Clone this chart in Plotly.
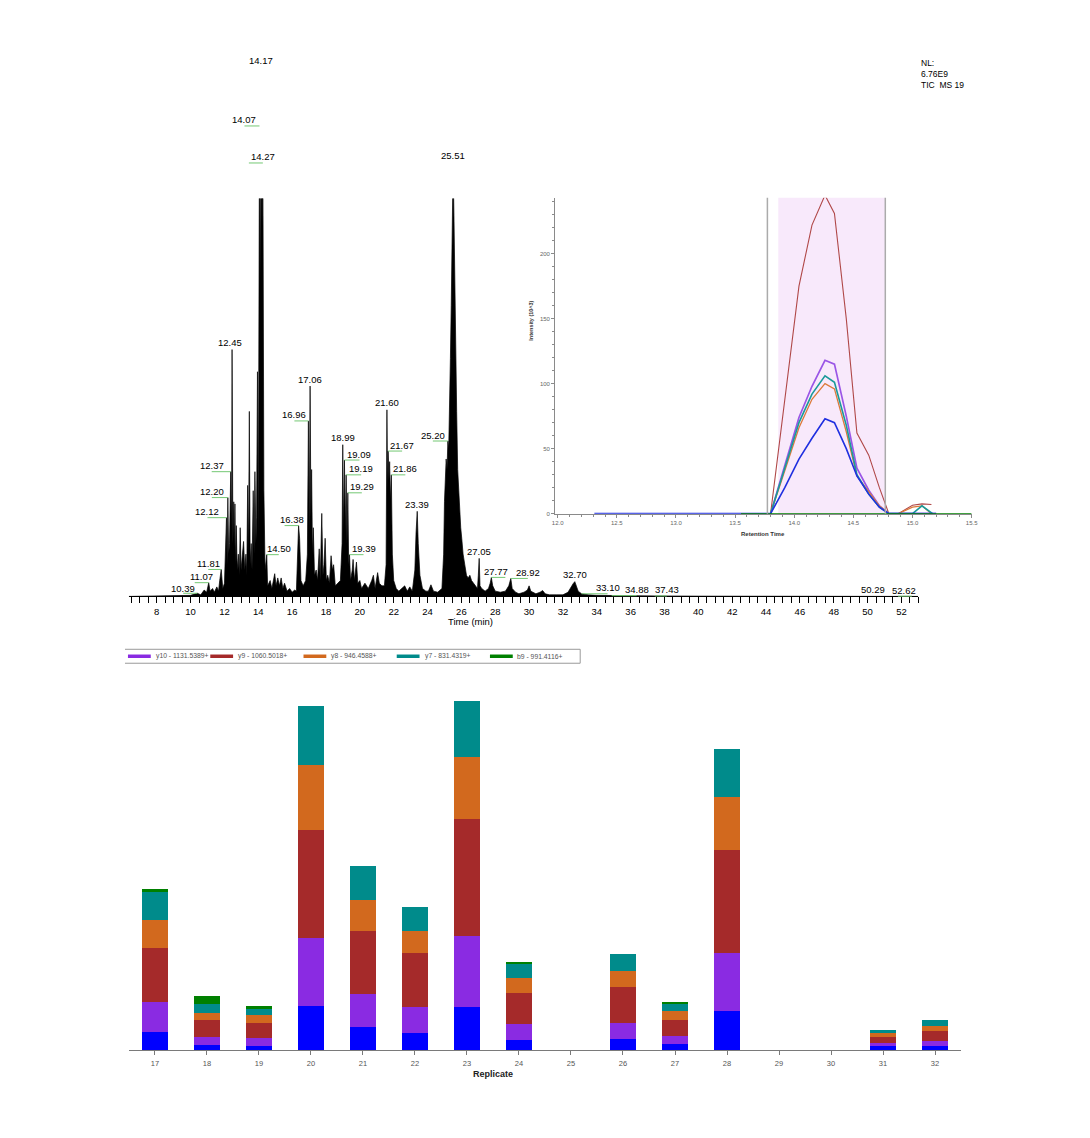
import plotly.graph_objects as go

W, H = 1090, 1138
FONT = "Liberation Sans, Arial, sans-serif"

# ---------------- TIC chromatogram data (relative abundance, %) ----------------
tic_time = [6.34, 10.0, 10.39, 10.6, 10.8, 10.95, 11.07, 11.15, 11.3, 11.4, 11.55, 11.65, 11.72, 11.81,
            11.9, 12.0, 12.12, 12.16, 12.20, 12.25, 12.30, 12.37, 12.42, 12.45, 12.50, 12.55, 12.58,
            12.62, 12.66, 12.70, 12.75, 12.82, 12.88, 12.93, 12.98, 13.05, 13.13, 13.2, 13.27, 13.32,
            13.37, 13.42, 13.47, 13.52, 13.58, 13.63, 13.70, 13.75, 13.80, 13.86, 13.90, 13.95, 14.00,
            14.07, 14.12, 14.17, 14.22, 14.27, 14.33, 14.40, 14.50, 14.55, 14.7, 14.8, 14.97, 15.05,
            15.15, 15.25, 15.35, 15.45, 15.55, 15.7, 15.85, 16.0, 16.15, 16.25, 16.38, 16.44, 16.52,
            16.65, 16.80, 16.90, 16.96, 17.01, 17.06, 17.11, 17.15, 17.20, 17.25, 17.32, 17.42, 17.5,
            17.6, 17.66, 17.75, 17.82, 17.88, 17.95, 18.02, 18.1, 18.2, 18.3, 18.38, 18.45, 18.55,
            18.7, 18.85, 18.95, 18.99, 19.04, 19.09, 19.14, 19.19, 19.24, 19.29, 19.34, 19.39, 19.45,
            19.55, 19.6, 19.68, 19.8, 19.88, 20.0, 20.1, 20.3, 20.5, 20.7, 20.8, 20.9, 21.05, 21.15,
            21.3, 21.45, 21.55, 21.60, 21.64, 21.67, 21.72, 21.76, 21.81, 21.86, 21.92, 22.0, 22.15,
            22.3, 22.5, 22.65, 22.8, 22.95, 23.1, 23.25, 23.32, 23.39, 23.45, 23.55, 23.7, 23.9, 24.05,
            24.2, 24.35, 24.6, 24.85, 24.95, 25.0, 25.05, 25.10, 25.15, 25.20, 25.25, 25.30, 25.35,
            25.40, 25.45, 25.51, 25.56, 25.62, 25.68, 25.72, 25.78, 25.84, 25.90, 25.96, 26.02, 26.1,
            26.2, 26.3, 26.4, 26.5, 26.6, 26.7, 26.85, 26.95, 27.0, 27.05, 27.1, 27.2, 27.4, 27.6,
            27.7, 27.77, 27.85, 28.0, 28.3, 28.6, 28.8, 28.92, 29.0, 29.2, 29.4, 29.7, 29.9, 30.0,
            30.1, 30.4, 30.65, 30.8, 30.95, 31.2, 31.6, 32.0, 32.3, 32.5, 32.60, 32.70, 32.8, 32.9,
            33.10, 33.5, 34.0, 34.88, 35.5, 37.43, 40.0, 50.29, 52.62, 53.0]
tic_int = [0, 0.2, 0.6, 0.3, 1.2, 0.8, 2.6, 1.0, 1.5, 0.8, 1.8, 1.0, 3.0, 5.1,
           1.5, 2.5, 14.9, 6, 18.7, 8, 10, 23.6, 12, 46.7, 10, 17.9, 9,
           17.5, 6, 13.4, 5, 8, 4, 13, 5, 8, 10.4, 5, 8, 4,
           21, 8, 35, 6, 10, 5, 20, 8, 23.6, 10, 15, 42.5, 12,
           89, 60, 100, 70, 82, 20, 5, 7.9, 2, 3, 1.5, 4.3, 2,
           3.5, 2, 3.5, 1.5, 2.5, 1, 1.5, 0.8, 1.2, 1, 13.4, 11, 3,
           2, 3, 8, 33.2, 12, 39.8, 15, 24, 8, 13, 4, 5, 3,
           9, 3, 15.7, 4, 6, 11, 3, 4, 2.5, 7.7, 5, 6, 2,
           2.5, 3, 10, 28.7, 12, 25.8, 12, 23, 10, 19.6, 6, 7.9, 3,
           5, 7, 3, 6.5, 2.5, 3, 1.5, 2.5, 1.5, 3, 4, 1.5, 4.5, 2.5,
           2, 2, 6, 35.3, 20, 27.5, 22, 25.5, 18, 23, 8, 3, 1.5,
           1, 1.5, 2, 1, 1.8, 1, 5, 12, 16.1, 10, 4, 1.5, 1, 1,
           2.2, 1, 0.8, 1.5, 8, 18, 25, 26, 24, 29.4, 28, 34, 45,
           55, 70, 82, 72, 55, 40, 35, 24, 20, 16, 13, 11, 8,
           6, 4, 3.5, 4, 3, 2.5, 2, 1.5, 4, 7.2, 2, 1.5, 1, 1.5,
           2.5, 3.6, 2, 1, 0.8, 1, 2, 3.4, 1.5, 0.8, 0.5, 0.8, 1.2, 2.0,
           1.0, 0.5, 0.8, 1.1, 0.5, 0.3, 0.3, 0.3, 0.8, 2.0, 2.4, 2.8, 1.8, 1.0,
           0.5, 0.3, 0.2, 0.15, 0.1, 0.1, 0.05, 0.05, 0.05, 0]

tic_label_rt = [14.17, 14.07, 14.27, 25.51, 12.45, 17.06, 16.96, 21.60, 18.99, 19.09, 19.19,
                21.67, 25.20, 12.37, 21.86, 12.20, 19.29, 23.39, 12.12, 16.38, 14.50, 19.39,
                27.05, 11.81, 11.07, 27.77, 28.92, 32.70, 10.39, 33.10, 34.88, 37.43, 50.29, 52.62]
NL_TEXT = "NL:<br>6.76E9<br>TIC  MS 19"

# ---------------- Inset XIC data (Intensity, 10^3) ----------------
xic_names = ["y10 - 1131.5389+", "y9 - 1060.5018+", "y8 - 946.4588+", "y7 - 831.4319+",
             "unlabelled (blue)", "b9 - 991.4116+"]
xic_t_y10 = [13.80, 13.92, 14.04, 14.15, 14.26, 14.34, 14.44, 14.53, 14.63, 14.72, 14.80, 15.20]
xic_v_y10 = [0, 38, 74, 98, 118, 115, 75, 35, 18, 6, 0, 0]
xic_t_y9 = [13.80, 13.92, 14.04, 14.15, 14.26, 14.34, 14.44, 14.53, 14.63, 14.72, 14.80, 14.88,
            15.00, 15.08, 15.16]
xic_v_y9 = [0, 88, 175, 222, 245, 231, 150, 62, 45, 20, 0, 0, 6.5, 7.5, 7]
xic_t_y8 = [13.80, 13.92, 14.04, 14.15, 14.26, 14.34, 14.44, 14.53, 14.63, 14.72, 14.80, 14.88,
            15.00, 15.08, 15.16]
xic_v_y8 = [0, 33, 66, 88, 100, 96, 63, 29, 17, 6, 0, 0, 5, 6, 0]
xic_t_y7 = [13.80, 13.92, 14.04, 14.15, 14.26, 14.34, 14.44, 14.53, 14.63, 14.72, 14.80, 15.00,
            15.08, 15.17]
xic_v_y7 = [0, 35, 70, 92, 106, 101, 68, 30, 15, 5, 0, 0, 6, 0]
xic_t_blue = [12.31, 13.55, 13.80, 13.92, 14.04, 14.15, 14.26, 14.34, 14.44, 14.53, 14.63, 14.72,
              14.80, 15.20]
xic_v_blue = [0, 0, 0, 20, 42, 58, 73, 70, 50, 29, 15, 5, 0, 0]
xic_t_b9 = [13.55, 15.50]
xic_v_b9 = [0, 0]
integration_start, integration_end = 13.865, 14.77
marker_line_rt = 13.773

# ---------------- Peak areas per replicate (stacked bars) ----------------
replicates = [str(r) for r in range(17, 33)]
area_blue = [17.7, 5.4, 4.4, 44.4, 23, 16.7, 43, 10, 0, 11.4, 5.7, 39.4, 0, 0, 4, 4]
area_y10 = [30, 7.3, 7.3, 67.6, 33, 26, 71.4, 15.7, 0, 15.6, 8, 57.3, 0, 0, 3.4, 5]
area_y9 = [54.3, 17, 15, 109, 63, 54.7, 117.3, 31.7, 0, 35.7, 16.3, 104, 0, 0, 6, 10]
area_y8 = [28.4, 7.3, 8.3, 65, 31.7, 22.3, 61.7, 14.6, 0, 16.3, 9, 53, 0, 0, 3.6, 5]
area_y7 = [28.3, 9, 7, 59, 33.3, 24, 56, 14.4, 0, 16.7, 7.7, 48, 0, 0, 3, 5.7]
area_b9 = [3, 8, 1.7, 0, 0, 0, 0, 1.3, 0, 0, 0.8, 0, 0, 0, 0, 0]

# ---------------- styles / layout geometry ----------------
COL = {"blue": "#0000ff", "y10": "#8a2be2", "y9": "#a52a2a", "y8": "#d2691e",
       "y7": "#008b8b", "b9": "#008000"}
XIC_COL = dict(COL, y9="#b04848", y10="#9a55e6", y7="#1a9a9a", y8="#dc7a3a", blue="#2030e0")


def px_x(X):
    return X / W


def px_y(Y):
    return 1 - Y / H


tic_xdom = [px_x(126.7), px_x(923)]
tic_ydom = [px_y(598), px_y(199)]
tic_ymax = (598 - 199) / 5.30
ins_xdom = [px_x(556.7), px_x(976.7)]
ins_ydom = [px_y(515), px_y(198.3)]
bar_xdom = [px_x(127), px_x(966)]
bar_ydom = [px_y(1052.7), px_y(692.7)]


def tic_paper_y(h):
    return tic_ydom[0] + h / tic_ymax * (tic_ydom[1] - tic_ydom[0])


def ann(x, y, text, size, color, xanchor="center", yanchor="middle", **kw):
    d = dict(x=x, y=y, xref="paper", yref="paper", text=text, showarrow=False,
             xanchor=xanchor, yanchor=yanchor, font=dict(family=FONT, size=size, color=color))
    d.update(kw)
    return d


fig = go.Figure()

# TIC
fig.add_trace(go.Scatter(x=tic_time, y=tic_int, mode="lines", fill="tozeroy",
                         line=dict(color="black", width=0.7), fillcolor="black",
                         xaxis="x", yaxis="y", showlegend=False, hoverinfo="skip"))

# Inset XIC traces
inset = [("y10", xic_t_y10, xic_v_y10, 1.7), ("y9", xic_t_y9, xic_v_y9, 1.1),
         ("y8", xic_t_y8, xic_v_y8, 1.3), ("y7", xic_t_y7, xic_v_y7, 1.6),
         ("blue", xic_t_blue, xic_v_blue, 1.6), ("b9", xic_t_b9, xic_v_b9, 1.3)]
for i, (k, t, v, lw) in enumerate(inset):
    fig.add_trace(go.Scatter(x=t, y=v, mode="lines", name=xic_names[i],
                             line=dict(color=XIC_COL[k], width=lw),
                             xaxis="x2", yaxis="y2", showlegend=False))

# Stacked bars
bar_series = [("blue", area_blue, 4), ("y10", area_y10, 0), ("y9", area_y9, 1),
              ("y8", area_y8, 2), ("y7", area_y7, 3), ("b9", area_b9, 5)]
for k, vals, ni in bar_series:
    fig.add_trace(go.Bar(x=replicates, y=vals, name=xic_names[ni],
                         marker=dict(color=COL[k], line=dict(width=0)), width=0.5,
                         xaxis="x3", yaxis="y3", showlegend=False))

annotations = []
shapes = []

# TIC peak labels: (dx, dy) pixel offsets of text centre from apex, leader flag
label_pos = {
    14.17: (0, -7, False), 14.07: (-15, -6, True), 14.27: (0, -6, True), 25.51: (0, -7, False),
    12.45: (-2, -7, False), 17.06: (0, -7, False), 16.96: (-14, -6, True), 21.60: (0, -7, False),
    18.99: (0, -7, False), 19.09: (15, -6, True), 19.19: (15, -6, True), 21.67: (14, -6, True),
    25.20: (-15, -6, True), 12.37: (-19, -6, True), 21.86: (14, -6, True), 12.20: (-16, -6, True),
    19.29: (14, -6, True), 23.39: (0, -7, False), 12.12: (-19, -6, True), 16.38: (-7, -6, True),
    14.50: (12, -6, True), 19.39: (14, -6, True), 27.05: (0, -7, False), 11.81: (-13, -6, True),
    11.07: (-7, -6, True), 27.77: (5, -6, True), 28.92: (17, -6, True), 32.70: (0, -7, False),
    10.39: (-14, -5, True), 33.10: (26, -6, True), 34.88: (25, -6, True), 37.43: (12, -6, True),
    50.29: (0, -7, False), 52.62: (-8, -6, True),
}
for rt in tic_label_rt:
    h = tic_int[tic_time.index(rt)]
    dx, dy, lead = label_pos[rt]
    yp = tic_paper_y(h)
    annotations.append(dict(x=rt, y=yp - dy / H, xref="x", yref="paper", text=f"{rt:.2f}",
                            showarrow=False, xshift=dx, xanchor="center", yanchor="middle",
                            font=dict(family=FONT, size=9.5, color="black")))
    if lead:
        if abs(dx) < 12:
            seg = (-14, 0) if dx <= 0 else (0, 14)
        else:
            seg = (min(dx, 0), max(dx, 0))
        shapes.append(dict(type="line", xref="x", yref="paper", xsizemode="pixel",
                           xanchor=rt, x0=seg[0], x1=seg[1], ysizemode="pixel",
                           yanchor=yp, y0=0, y1=0,
                           line=dict(color="#74c874", width=1)))

annotations.append(ann(px_x(924), px_y(56), NL_TEXT, 8.5, "black", xanchor="left",
                       yanchor="top", align="left"))
annotations.append(ann(px_x(471), px_y(623), "Time (min)", 9.5, "black"))

# Inset decorations
shapes.append(dict(type="rect", xref="x2", yref="paper", x0=integration_start, x1=integration_end,
                   y0=ins_ydom[0], y1=ins_ydom[1], fillcolor="#f8e9fb", line=dict(width=0),
                   layer="below"))
for xv in (marker_line_rt, integration_end):
    shapes.append(dict(type="line", xref="x2", yref="paper", x0=xv, x1=xv,
                       y0=ins_ydom[0], y1=ins_ydom[1], line=dict(color="#ababab", width=1.5)))
annotations.append(ann(px_x(766), px_y(535), "<b>Retention Time</b>", 6, "#333"))
annotations.append(ann(px_x(533), px_y(322), "<b>Intensity (10^3)</b>", 5.5, "#333",
                       textangle=-90))

# Bar chart x title
annotations.append(ann(px_x(494), px_y(1077), "<b>Replicate</b>", 9, "#222"))

# Manual legend
leg_y = 658
for (x0, y0, x1, y1) in [(123, 651, 582, 651), (123, 665, 582, 665), (582, 651, 582, 665)]:
    shapes.append(dict(type="line", xref="paper", yref="paper", x0=px_x(x0), x1=px_x(x1),
                       y0=px_y(y0), y1=px_y(y1), line=dict(color="#9a9a9a", width=1)))
leg_items = [("y10", 0, 126, 152), ("y9", 1, 209, 235), ("y8", 2, 303, 329),
             ("y7", 3, 397, 423), ("b9", 5, 491, 516)]
for k, idx, sx, tx in leg_items:
    shapes.append(dict(type="line", xref="paper", yref="paper", x0=px_x(sx), x1=px_x(sx + 23),
                       y0=px_y(leg_y), y1=px_y(leg_y), line=dict(color=COL[k], width=3.5)))
    annotations.append(ann(px_x(tx), px_y(leg_y), xic_names[idx], 6.8, "#555",
                           xanchor="left"))

fig.update_layout(
    width=W, height=H, margin=dict(l=0, r=0, t=0, b=0),
    paper_bgcolor="white", plot_bgcolor="rgba(0,0,0,0)",
    barmode="stack", showlegend=False,
    font=dict(family=FONT),
    xaxis=dict(domain=tic_xdom, range=[6.34, 53.0], anchor="y", showline=True,
               linecolor="black", linewidth=1, ticks="outside", ticklen=6, tickcolor="black",
               tick0=0, dtick=2, showgrid=False, zeroline=False,
               tickfont=dict(family=FONT, size=9.5, color="black"),
               minor=dict(dtick=0.5, tick0=0, ticks="outside", ticklen=6, tickcolor="black",
                          showgrid=False)),
    yaxis=dict(domain=tic_ydom, range=[0, tic_ymax], anchor="x", visible=False),
    xaxis2=dict(domain=ins_xdom, range=[11.978, 15.5], anchor="y2", showline=True,
                linecolor="#8a8a8a", ticks="outside", ticklen=3, tickcolor="#8a8a8a",
                tick0=0, dtick=0.5, tickformat=".1f", showgrid=False, zeroline=False,
                tickfont=dict(family=FONT, size=6, color="#666"),
                minor=dict(dtick=0.1, ticks="outside", ticklen=2, tickcolor="#8a8a8a",
                           showgrid=False)),
    yaxis2=dict(domain=ins_ydom, range=[0, 243], anchor="x2", showline=True,
                linecolor="#8a8a8a", ticks="outside", ticklen=3, tickcolor="#8a8a8a",
                tick0=0, dtick=50, showgrid=False, zeroline=False,
                tickfont=dict(family=FONT, size=6, color="#666"),
                minor=dict(dtick=10, ticks="outside", ticklen=2, tickcolor="#8a8a8a",
                           showgrid=False)),
    xaxis3=dict(domain=bar_xdom, range=[-0.5, 15.5], anchor="y3", type="category",
                showline=True, linecolor="#7a7a7a", linewidth=1.2, ticks="outside", ticklen=4,
                tickcolor="#7a7a7a", showgrid=False, zeroline=False, ticklabelstandoff=2,
                tickfont=dict(family=FONT, size=7.5, color="#555")),
    yaxis3=dict(domain=bar_ydom, range=[0, 360], anchor="x3", visible=False),
    annotations=annotations, shapes=shapes,
)

fig.write_html("out.html")
